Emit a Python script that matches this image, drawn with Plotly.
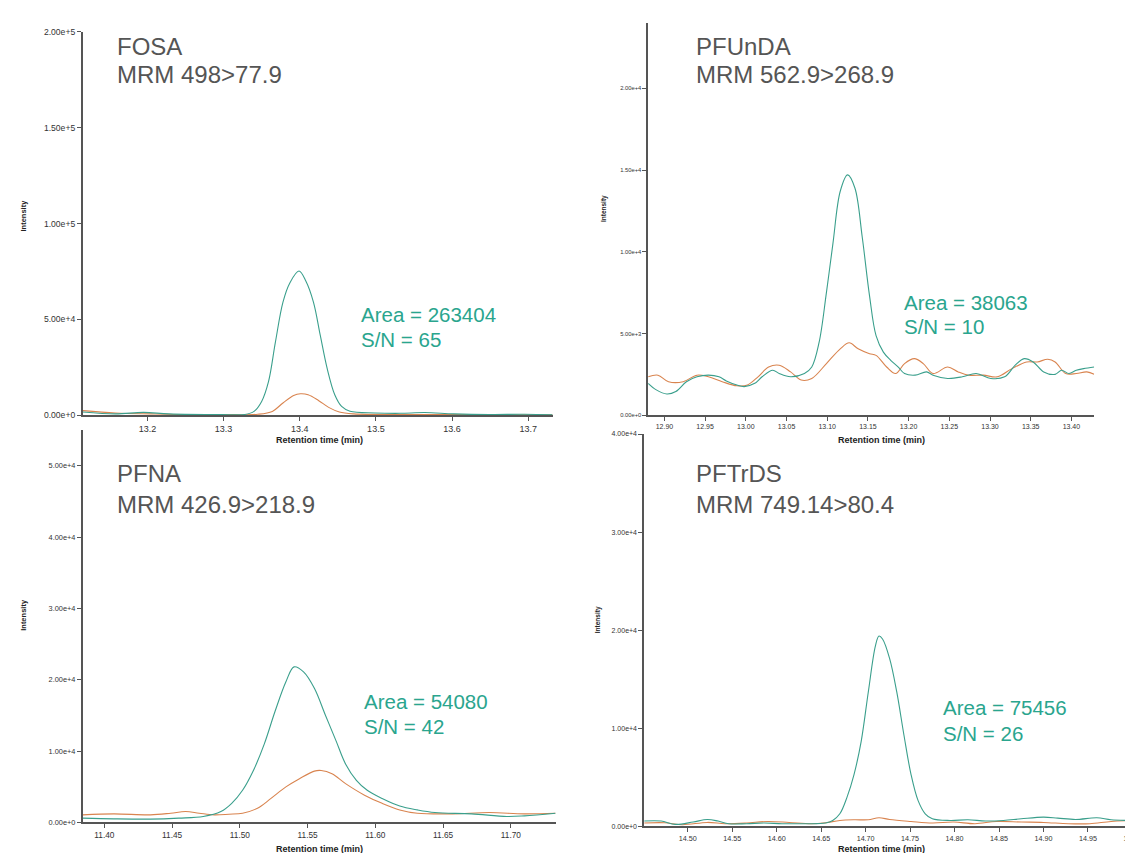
import plotly.graph_objects as go

W, H = 1133, 853

# ---------------- data ----------------
# Panel 1: FOSA
fosa_t_q = [13.115, 13.158, 13.195, 13.228, 13.298, 13.328, 13.340, 13.350, 13.359, 13.368, 13.378, 13.387,
            13.399, 13.408, 13.418, 13.427, 13.436, 13.446, 13.455, 13.466, 13.499, 13.532, 13.564, 13.602,
            13.649, 13.695, 13.732]
fosa_i_q = [1700, 700, 1500, 700, 300, 400, 2000, 7200, 17500, 38000, 59000, 69000,
            75200, 70000, 59000, 41600, 24400, 10700, 4600, 2100, 1200, 1000, 1400, 700,
            350, 500, 200]
fosa_t_c = [13.115, 13.158, 13.205, 13.251, 13.298, 13.345, 13.364, 13.378, 13.392, 13.401, 13.411, 13.425,
            13.438, 13.452, 13.471, 13.532, 13.625, 13.732]
fosa_i_c = [2400, 1200, 700, 350, 350, 500, 2000, 6400, 10300, 11200, 10700, 7600,
            4100, 1700, 700, 350, 350, 170]

# Panel 2: PFUnDA
pfunda_t_q = [12.880, 12.890, 12.903, 12.914, 12.927, 12.940, 12.954, 12.967, 12.976, 12.989, 12.998, 13.011,
              13.020, 13.033, 13.041, 13.055, 13.072, 13.081, 13.090, 13.099, 13.107, 13.116, 13.125, 13.134,
              13.143, 13.152, 13.160, 13.169, 13.178, 13.187, 13.195, 13.208, 13.222, 13.230, 13.248, 13.266,
              13.283, 13.301, 13.318, 13.331, 13.342, 13.353, 13.366, 13.380, 13.388, 13.397, 13.406, 13.415,
              13.428]
pfunda_i_q = [1950, 1550, 1300, 1450, 2050, 2350, 2450, 2350, 2100, 1850, 1750, 1950,
              2350, 2750, 2550, 2350, 2550, 2950, 4450, 7500, 10500, 13700, 14700, 13900,
              10900, 7300, 4870, 3860, 3360, 2960, 2550, 2450, 2650, 2450, 2250, 2350,
              2550, 2250, 2350, 3060, 3460, 3260, 2650, 2500, 2750, 2550, 2750, 2850,
              2950]
pfunda_t_c = [12.880, 12.892, 12.905, 12.923, 12.940, 12.954, 12.971, 12.989, 13.002, 13.015, 13.028, 13.041,
              13.055, 13.068, 13.081, 13.099, 13.116, 13.127, 13.138, 13.152, 13.160, 13.173, 13.184, 13.195,
              13.207, 13.218, 13.230, 13.248, 13.261, 13.274, 13.292, 13.309, 13.327, 13.345, 13.358, 13.371,
              13.380, 13.393, 13.406, 13.419, 13.428]
pfunda_i_c = [2350, 2450, 2050, 2050, 2450, 2350, 2050, 1800, 1850, 2350, 2950, 3060,
              2650, 2150, 2250, 3160, 4060, 4430, 4060, 3760, 3660, 2950, 2550, 3160,
              3460, 3160, 2550, 2950, 2650, 2450, 2450, 2350, 2850, 3260, 3260, 3420,
              3260, 2550, 2550, 2650, 2500]

# Panel 3: PFNA
pfna_t_q = [11.384, 11.407, 11.434, 11.455, 11.473, 11.486, 11.494, 11.502, 11.510, 11.518, 11.526, 11.534,
            11.540, 11.547, 11.555, 11.563, 11.571, 11.578, 11.586, 11.594, 11.605, 11.618, 11.631, 11.644,
            11.671, 11.697, 11.710, 11.733]
pfna_i_q = [600, 500, 460, 600, 830, 1520, 2670, 4500, 7280, 10970, 15580, 19720,
            21800, 21100, 18800, 15100, 11430, 8200, 5900, 4500, 3360, 2300, 1750, 1380,
            1200, 830, 920, 1290]
pfna_t_c = [11.384, 11.407, 11.434, 11.449, 11.460, 11.470, 11.481, 11.492, 11.502, 11.513, 11.523, 11.534,
            11.544, 11.555, 11.560, 11.568, 11.578, 11.592, 11.605, 11.618, 11.631, 11.657, 11.684, 11.710,
            11.733]
pfna_i_c = [1060, 1200, 1060, 1290, 1520, 1290, 1060, 1150, 1290, 1980, 3360, 4980,
            6130, 7190, 7280, 6820, 5440, 3820, 2670, 1750, 1290, 1200, 1380, 1200,
            1290]

# Panel 4: PFTrDS
pftrds_t_q = [14.451, 14.470, 14.486, 14.506, 14.522, 14.534, 14.546, 14.566, 14.586, 14.606, 14.631, 14.655,
              14.663, 14.671, 14.679, 14.687, 14.695, 14.703, 14.711, 14.715, 14.719, 14.727, 14.735, 14.743,
              14.751, 14.759, 14.767, 14.775, 14.795, 14.815, 14.835, 14.855, 14.875, 14.900, 14.916, 14.936,
              14.960, 14.976, 15.003]
pftrds_i_q = [540, 540, 200, 440, 700, 540, 270, 270, 340, 270, 270, 340,
              600, 1280, 2960, 5310, 8670, 13700, 18400, 19400, 19100, 17100, 13700, 9340,
              5310, 2620, 1280, 770, 600, 670, 540, 600, 770, 940, 840, 700,
              870, 670, 600]
pftrds_t_c = [14.451, 14.474, 14.494, 14.522, 14.542, 14.566, 14.590, 14.614, 14.639, 14.655, 14.671, 14.687,
              14.703, 14.715, 14.727, 14.751, 14.775, 14.799, 14.823, 14.847, 14.875, 14.900, 14.928, 14.952,
              14.976, 15.003]
pftrds_i_c = [340, 370, 170, 400, 270, 340, 500, 400, 270, 370, 600, 670,
              670, 870, 700, 500, 340, 440, 270, 500, 440, 400, 270, 270,
              500, 600]

compounds = ["FOSA", "PFUnDA", "PFNA", "PFTrDS"]
transitions = ["MRM 498>77.9", "MRM 562.9>268.9", "MRM 426.9>218.9", "MRM 749.14>80.4"]
areas = [263404, 38063, 54080, 75456]
sn = [65, 10, 42, 26]

x_ticks = [[13.2, 13.3, 13.4, 13.5, 13.6, 13.7],
           [12.90, 12.95, 13.00, 13.05, 13.10, 13.15, 13.20, 13.25, 13.30, 13.35, 13.40],
           [11.40, 11.45, 11.50, 11.55, 11.60, 11.65, 11.70],
           [14.50, 14.55, 14.60, 14.65, 14.70, 14.75, 14.80, 14.85, 14.90, 14.95, 15.00]]
x_ranges = [[13.115, 13.732], [12.880, 13.428], [11.384, 11.733], [14.451, 15.004]]
y_ranges = [[0, 2.0e5], [0, 2.4e4], [0, 5.5e4], [0, 4.0e4]]
y_dticks = [5e4, 5e3, 1e4, 1e4]

series = [
    (fosa_t_q, fosa_i_q, fosa_t_c, fosa_i_c),
    (pfunda_t_q, pfunda_i_q, pfunda_t_c, pfunda_i_c),
    (pfna_t_q, pfna_i_q, pfna_t_c, pfna_i_c),
    (pftrds_t_q, pftrds_i_q, pftrds_t_c, pftrds_i_c),
]

# ---------------- layout geometry (pixels) ----------------
# (left, right, top, bottom)
boxes = [(75, 547, 19, 407), (643, 1091, 10, 407), (75, 550, 422, 819), (639, 1133, 426, 823)]
xfmt = [".1f", ".2f", ".2f", ".2f"]
xtick_size = [9, 7, 8.3, 7.2]
ytick_size = [8.6, 5.8, 7.4, 7.0]
label_pos = [(107, 34, 62.5), (689, 34, 62.5), (107, 466, 497), (689, 466, 497)]
green_pos = [(353, 305, 330.5), (898, 292.5, 317), (356, 696.5, 721.5), (937, 702.5, 729)]
xtitle_pos = [(313, 432), (877, 432), (313, 846), (877, 846)]
ytitle_pos = [(16, 205), (598, 198), (16, 609), (592, 614)]

TEAL = "#3a9f8c"
ORANGE = "#d9844f"
TEXT_TEAL = "#2aa58e"
GREY = "#555555"
FONT = "Liberation Sans, Arial, Helvetica, sans-serif"

def px(x):
    return x / W

def py(y):
    return 1 - y / H

fig = go.Figure()
layout = dict(width=W, height=H, margin=dict(l=0, r=0, t=0, b=0),
              paper_bgcolor="white", plot_bgcolor="white", showlegend=False,
              font=dict(family=FONT, color="#333333"))
annotations = []

for i in range(4):
    n = "" if i == 0 else str(i + 1)
    tq, iq, tc, ic = series[i]
    fig.add_trace(go.Scatter(x=tc, y=ic, mode="lines", line=dict(color=ORANGE, width=1.1, shape="spline"),
                             xaxis="x" + n, yaxis="y" + n, hoverinfo="skip"))
    fig.add_trace(go.Scatter(x=tq, y=iq, mode="lines", line=dict(color=TEAL, width=1.1, shape="spline"),
                             xaxis="x" + n, yaxis="y" + n, hoverinfo="skip"))
    l, r, t, b = boxes[i]
    common = dict(showline=True, linecolor=GREY, linewidth=1.5, ticks="outside", ticklen=4,
                  tickcolor=GREY, tickwidth=1, showgrid=False, zeroline=False,
                  ticklabeloverflow="allow")
    layout["xaxis" + n] = dict(domain=[px(l), px(r)], anchor="y" + n, range=x_ranges[i],
                               tickvals=x_ticks[i], tickformat=xfmt[i],
                               tickfont=dict(size=xtick_size[i], color="#333333"), **common)
    layout["yaxis" + n] = dict(domain=[py(b), py(t)], anchor="x" + n, range=y_ranges[i],
                               tick0=0, dtick=y_dticks[i], tickformat=".2e",
                               tickfont=dict(size=ytick_size[i], color="#333333"), **common)
    lx, ly1, ly2 = label_pos[i]
    annotations.append(dict(x=px(lx), y=py(ly1), xref="paper", yref="paper", xanchor="left", yanchor="middle",
                            text=compounds[i], showarrow=False, font=dict(size=24, color=GREY)))
    annotations.append(dict(x=px(lx), y=py(ly2), xref="paper", yref="paper", xanchor="left", yanchor="middle",
                            text=transitions[i], showarrow=False, font=dict(size=24, color=GREY)))
    gx, gy1, gy2 = green_pos[i]
    annotations.append(dict(x=px(gx), y=py(gy1), xref="paper", yref="paper", xanchor="left", yanchor="middle",
                            text=f"Area = {areas[i]}", showarrow=False, font=dict(size=20.5, color=TEXT_TEAL)))
    annotations.append(dict(x=px(gx), y=py(gy2), xref="paper", yref="paper", xanchor="left", yanchor="middle",
                            text=f"S/N = {sn[i]}", showarrow=False, font=dict(size=20.5, color=TEXT_TEAL)))
    tx, ty = xtitle_pos[i]
    annotations.append(dict(x=px(tx), y=py(ty), xref="paper", yref="paper", xanchor="center", yanchor="middle",
                            text="<b>Retention time (min)</b>", showarrow=False,
                            font=dict(size=9, color="#222222")))
    yx, yy = ytitle_pos[i]
    annotations.append(dict(x=px(yx), y=py(yy), xref="paper", yref="paper", xanchor="center", yanchor="middle",
                            text="<b>Intensity</b>", textangle=-90, showarrow=False,
                            font=dict(size=7.5 if i in (0, 2) else 6.5, color="#222222")))

layout["annotations"] = annotations
fig.update_layout(**layout)
fig.write_html("out.html")
